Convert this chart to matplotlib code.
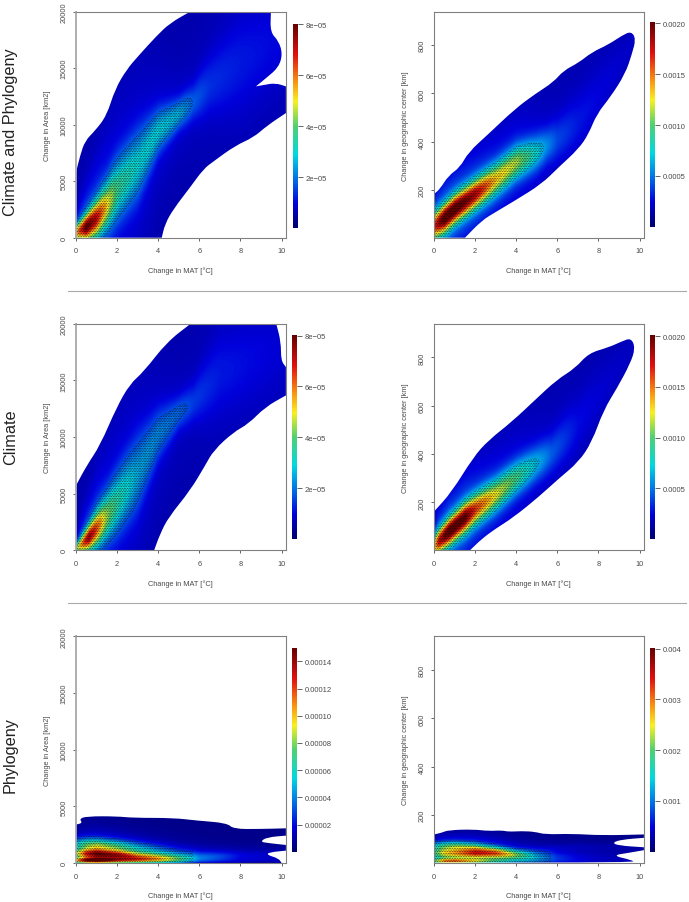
import numpy as np
import matplotlib
matplotlib.use('Agg')
import matplotlib.pyplot as plt
from matplotlib.colors import LinearSegmentedColormap
from matplotlib.patches import PathPatch
from matplotlib.path import Path

plt.rcParams['font.family'] = ['Liberation Sans', 'DejaVu Sans']
plt.rcParams['hatch.color'] = '#000000'
plt.rcParams['hatch.linewidth'] = 0.3

W, H = 689, 903
GREY = '#4a4a4a'

x_label = 'Change in MAT [°C]'
area_label = 'Change in Area [km2]'
center_label = 'Change in geographic center [km]'
row_names = ['Climate and Phylogeny', 'Climate', 'Phylogeny']

area_ticks = [0, 5000, 10000, 15000, 20000]
center_ticks = [200, 400, 600, 800]
mat_ticks = [0, 2, 4, 6, 8, 10]

# outlines of the density cloud
cp_area_x = [0, .2, .44, .93, 1.49, 1.9, 2.47, 3.04, 3.93, 4.58, 5.55, 9.48, 9.45, 9.85, 10.05, 9.85, 9.29, 8.75, 8.75, 9.12, 9.69, 10.21, 10.21, 9.29, 8.64, 7.74, 6.69, 6.2, 5.55, 4.74, 4.33, 4.17, 0]
cp_area_y = [5780, 7260, 8580, 9470, 10800, 13150, 14900, 16100, 17880, 19000, 20000, 20000, 18170, 17430, 16250, 15070, 14190, 13390, 13390, 13510, 13690, 13390, 11030, 9910, 8880, 8140, 6755, 6080, 4450, 2540, 1210, 0, 0]
cp_center_x = [0, .29, .7, 1.27, 1.67, 2.65, 3.94, 4.92, 5.81, 6.3, 7.03, 7.68, 8.49, 9.14, 9.59, 9.82, 9.63, 9.3, 8.57, 7.92, 7.52, 7.03, 6.06, 5.24, 3.94, 2.97, 2.32, 1.51, 0]
cp_center_y = [183, 204, 259, 294, 356, 432, 536, 598, 647, 695, 727, 771, 803, 840, 858, 826, 764, 681, 584, 515, 432, 370, 294, 225, 156, 107, 73, 2, 2]
c_area_x = [0, .52, 1.17, 1.98, 2.63, 3.28, 4.42, 5.58, 9.74, 9.97, 9.97, 10.21, 10.21, 9.2, 8.39, 7.66, 6.69, 6.28, 5.55, 4.5, 4.09, 3.8, 0]
c_area_y = [5710, 7480, 9250, 12640, 14700, 15730, 18380, 20000, 20000, 18380, 16760, 16170, 13670, 12640, 11160, 10430, 8810, 7480, 5270, 2920, 1440, 0, 0]
c_center_x = [0, .86, 1.92, 2.65, 3.78, 4.92, 5.97, 6.87, 7.52, 8.49, 9.14, 9.59, 9.79, 9.55, 8.9, 8.25, 7.68, 7.03, 6.06, 5.08, 3.86, 2.97, 2.32, 1.75, 0]
c_center_y = [162, 243, 388, 457, 533, 624, 707, 755, 817, 841, 866, 880, 838, 775, 672, 582, 450, 367, 298, 222, 138, 90, 49, 2, 2]
p_area_x = [0, .32, .16, .52, 1.98, 2.79, 4.74, 5.88, 7.34, 7.66, 8.96, 10.21, 10.21, 9.29, 8.96, 9.29, 10.21, 10.21, 9.38, 9.29, 9.85, 10.0, 0]
p_area_y = [3390, 3530, 3890, 4120, 4120, 3980, 3980, 3740, 3530, 3000, 3000, 3060, 2415, 2270, 1885, 1770, 1590, 1090, 940, 710, 410, 0, 0]
p_center_x = [0, .37, .7, 1.92, 2.65, 3.3, 3.62, 4.27, 4.92, 5.4, 6.7, 8.17, 10.21, 10.21, 9.14, 8.66, 8.98, 10.21, 10.21, 9.46, 8.66, 9.63, 9.76, 0]
p_center_y = [120, 127, 138, 141, 134, 137, 131, 134, 131, 120, 123, 116, 120, 106, 99, 86, 74, 67, 55, 44, 33, 14, 4, 4]

# density ridges: station, centre of band, peak density, spread
cp_area_s = [0, .5, 1, 1.5, 2, 3, 4, 5, 5.7, 6.5, 8, 10.2]
cp_area_c = [450, 950, 1750, 2900, 4300, 6500, 9500, 11000, 12000, 13500, 15500, 18000]
cp_area_p = [5e-5, 7.6e-5, 6.5e-5, 4.6e-5, 3.1e-5, 2.4e-5, 2.3e-5, 2e-5, 1.2e-5, .8e-5, .6e-5, .4e-5]
cp_area_w = [520, 800, 1100, 1400, 1800, 2000, 1300, 900, 1100, 1800, 3000, 3000]

cp_center_s = [0, .5, 1, 2, 3, 4, 5, 5.5, 6, 7, 8, 9.6]
cp_center_c = [50, 82, 121, 183, 245, 315, 356, 385, 410, 480, 590, 800]
cp_center_p = [.0015, .0020, .0020, .0017, .0012, .0010, .0006, .0004, .00025, .00015, .0001, .00005]
cp_center_w = [40, 40, 40, 42, 46, 48, 50, 50, 60, 80, 90, 60]

c_area_s = [0, .3, .6, 1, 1.5, 2, 3, 4, 5, 5.7, 7, 10.2]
c_area_c = [100, 550, 1050, 1900, 3000, 4200, 6800, 10200, 12100, 13000, 15500, 18000]
c_area_p = [3.5e-5, 5.5e-5, 7e-5, 5.8e-5, 3.8e-5, 2.9e-5, 1.9e-5, 1.6e-5, 1.3e-5, .9e-5, .6e-5, .3e-5]
c_area_w = [350, 600, 750, 1050, 1400, 1750, 2200, 1500, 1000, 1200, 2500, 3000]

c_center_s = [0, .2, .7, 1.5, 2, 3, 4, 5, 5.7, 7, 8, 9.6]
c_center_c = [15, 35, 75, 135, 170, 230, 300, 360, 400, 520, 640, 830]
c_center_p = [.0011, .0016, .0020, .0019, .0015, .0011, .0008, .0005, .0003, .00012, .00008, .00004]
c_center_w = [34, 36, 38, 42, 44, 46, 48, 50, 55, 80, 80, 60]

band_s = [0, .5, 1, 2, 3, 4, 5, 6, 7, 8, 10.2]
p_area_c1 = [200, 200, 200, 200, 200, 200, 200, 200, 200, 200, 200]
p_area_p1 = [8e-5, 12e-5, 13e-5, 8e-5, 5e-5, 3e-5, 2e-5, 1e-5, .8e-5, .6e-5, .4e-5]
p_area_c2 = [800, 780, 750, 650, 500, 420, 400, 480, 550, 600, 600]
p_area_p2 = [6e-5, 10e-5, 11.5e-5, 11e-5, 9e-5, 7.5e-5, 5e-5, 2.6e-5, 2e-5, 1e-5, .5e-5]
p_area_c3 = [1600, 1550, 1500, 1400, 1250, 1050, 900, 900, 900, 900, 900]
p_area_p3 = [4e-5, 6e-5, 7e-5, 5.5e-5, 3.8e-5, 2.6e-5, 1.5e-5, .8e-5, .5e-5, .4e-5, .3e-5]
p_area_w = [160, 290, 420]

p_center_c1 = [8, 8, 8, 8, 8, 8, 8, 8, 8, 8, 8]
p_center_p1 = [.0015, .0024, .0025, .0017, .0010, .0005, .0003, .0002, .00015, .0001, .0001]
p_center_c2 = [40, 40, 40, 40, 38, 32, 25, 25, 25, 25, 25]
p_center_p2 = [.0014, .0020, .0022, .0028, .0025, .0017, .0010, .0005, .0003, .0002, .0001]
p_center_c3 = [70, 70, 70, 65, 55, 45, 50, 60, 65, 65, 65]
p_center_p3 = [.0010, .0014, .0016, .0014, .0009, .0004, .0003, .0002, .00018, .00015, .0001]
p_center_w = [8, 15, 14]

jet_like = LinearSegmentedColormap.from_list('jet_like', [
    (0.00, '#00006e'), (0.12, '#0000dc'), (0.24, '#0070e6'), (0.36, '#00d8e0'),
    (0.50, '#50d070'), (0.62, '#f8f020'), (0.72, '#f89010'), (0.85, '#e01010'),
    (1.00, '#640000')])


def add_band(Z, X, Y, s, c, p, w):
    centre = np.interp(X, s, c)
    peak = np.interp(X, s, p)
    spread = np.interp(X, s, w)
    d = (Y - centre) / spread
    return Z + peak * (.84 * np.exp(-.5 * d ** 2) + .16 * np.exp(-.5 * (d / 3) ** 2))


def smooth_outline(xs, ys, ylim):
    # quadratic curve through the read vertices, points on the frame stay sharp
    pts = []
    for px, py in zip(xs, ys):
        pts.append((px, py))
        if px == 0 or px >= 10.2 or py == ylim[0] or py == ylim[1]:
            pts.append((px, py))
    pts = np.array(pts, dtype=float)
    nxt = np.roll(pts, -1, axis=0)
    mids = (pts + nxt) / 2
    verts = [mids[-1]]
    codes = [Path.MOVETO]
    for ctrl, end in zip(pts, mids):
        verts += [ctrl, end]
        codes += [Path.CURVE3, Path.CURVE3]
    return Path(verts, codes)


def draw_panel(box, cbox, xs, ys, bands, ylim, yticks, ylabel, vmax, cticks, clabels, stipple, floor):
    l, t, r, b = box
    ax = fig.add_axes([l / W, 1 - b / H, (r - l) / W, (b - t) / H])
    xg = np.linspace(0, 10.2, 320)
    yg = np.linspace(ylim[0], ylim[1], 360)
    X, Y = np.meshgrid(xg, yg)
    Z = np.full(X.shape, floor * vmax)
    for s, c, p, w in bands:
        Z = add_band(Z, X, Y, s, c, p, w)
    im = ax.imshow(Z, origin='lower', extent=[0, 10.2, ylim[0], ylim[1]], aspect='auto',
                   cmap=jet_like, vmin=0, vmax=vmax, interpolation='bilinear')
    outline = PathPatch(smooth_outline(xs, ys, ylim), fc='none', ec='none', transform=ax.transData)
    ax.add_patch(outline)
    im.set_clip_path(outline)

    # dark specks where the points are dense
    Zs = np.where(X < 5.7, Z, 0)
    cs = ax.contourf(X, Y, Zs, levels=[stipple * vmax, 10 * vmax], colors='none', hatches=['..........'])
    cs.set_clip_path(outline)

    ax.set_xlim(0, 10.2)
    ax.set_ylim(ylim)
    ax.set_xticks(mat_ticks)
    ax.set_yticks(yticks)
    ax.set_xlabel(x_label, fontsize=5.3, color=GREY, labelpad=8.5)
    ax.set_ylabel(ylabel, fontsize=5.3, color=GREY, labelpad=7)
    ax.tick_params(length=2.5, width=.6, color=GREY, labelcolor=GREY, labelsize=5.3)
    ax.tick_params(axis='x', pad=4.5)
    ax.tick_params(axis='y', pad=3.5)
    plt.setp(ax.get_yticklabels(), rotation=90, va='center')
    for sp in ax.spines.values():
        sp.set_color('#808080')
        sp.set_linewidth(.8)
    if l < 100:
        ax.spines['left'].set_color('#a8a8a8')
        ax.spines['left'].set_linewidth(1.3)

    cl, ct, cr, cb = cbox
    cax = fig.add_axes([cl / W, 1 - cb / H, (cr - cl) / W, (cb - ct) / H])
    bar = fig.colorbar(im, cax=cax)
    bar.outline.set_visible(False)
    bar.set_ticks(cticks, labels=clabels)
    cax.tick_params(length=3.5, width=.6, color=GREY, labelcolor=GREY, labelsize=5.5, pad=2.5)


fig = plt.figure(figsize=(W / 100, H / 100), dpi=100)

area_lim = (0, 20000)
center_lim = (2, 939)
area_cticks = [2e-5, 4e-5, 6e-5, 8e-5]
area_clabels = ['2e−05', '4e−05', '6e−05', '8e−05']
center_cticks = [.0005, .0010, .0015, .0020]
center_clabels = ['0.0005', '0.0010', '0.0015', '0.0020']

draw_panel((76, 12.7, 285.7, 238.7), (293.3, 24.7, 297.5, 229.3), cp_area_x, cp_area_y,
           [(cp_area_s, cp_area_c, cp_area_p, cp_area_w)], area_lim, area_ticks, area_label,
           8.02e-5, area_cticks, area_clabels, .22, .07)
draw_panel((434, 12.7, 643.7, 238.7), (650.3, 23.3, 654.7, 227.7), cp_center_x, cp_center_y,
           [(cp_center_s, cp_center_c, cp_center_p, cp_center_w)], center_lim, center_ticks, center_label,
           .00201, center_cticks, center_clabels, .3, .07)
draw_panel((76, 324.7, 285.7, 551.3), (292.3, 336, 296.7, 540), c_area_x, c_area_y,
           [(c_area_s, c_area_c, c_area_p, c_area_w)], area_lim, area_ticks, area_label,
           8.02e-5, area_cticks, area_clabels, .2, .07)
draw_panel((434, 324.7, 643.7, 551.3), (650.3, 336, 654.7, 540), c_center_x, c_center_y,
           [(c_center_s, c_center_c, c_center_p, c_center_w)], center_lim, center_ticks, center_label,
           .00201, center_cticks, center_clabels, .3, .07)
draw_panel((76, 637.3, 285.7, 864), (292.3, 648.7, 296.7, 852.7), p_area_x, p_area_y,
           [(band_s, p_area_c1, p_area_p1, [p_area_w[0]] * 11),
            (band_s, p_area_c2, p_area_p2, [p_area_w[1]] * 11),
            (band_s, p_area_c3, p_area_p3, [p_area_w[2]] * 11)],
           area_lim, area_ticks, area_label, 15e-5,
           [2e-5, 4e-5, 6e-5, 8e-5, 10e-5, 12e-5, 14e-5],
           ['0.00002', '0.00004', '0.00006', '0.00008', '0.00010', '0.00012', '0.00014'], .15, .03)
draw_panel((434, 637.3, 643.7, 864), (650.3, 648.7, 654.7, 852.7), p_center_x, p_center_y,
           [(band_s, p_center_c1, p_center_p1, [p_center_w[0]] * 11),
            (band_s, p_center_c2, p_center_p2, [p_center_w[1]] * 11),
            (band_s, p_center_c3, p_center_p3, [p_center_w[2]] * 11)],
           center_lim, center_ticks, center_label, .00402,
           [.001, .002, .003, .004], ['0.001', '0.002', '0.003', '0.004'], .15, .03)

fig.text(11 / W, 1 - 132 / H, row_names[0], rotation=90, fontsize=11.7, color='#222222', ha='center', va='center')
fig.text(11 / W, 1 - 437 / H, row_names[1], rotation=90, fontsize=11.7, color='#222222', ha='center', va='center')
fig.text(10 / W, 1 - 755 / H, row_names[2], rotation=90, fontsize=11.7, color='#222222', ha='center', va='center')

for y_sep in [291.7, 604]:
    fig.add_artist(plt.Line2D([68 / W, 686 / W], [1 - y_sep / H] * 2, color='#aaaaaa', lw=.8))

fig.savefig('out.png', dpi=100)
